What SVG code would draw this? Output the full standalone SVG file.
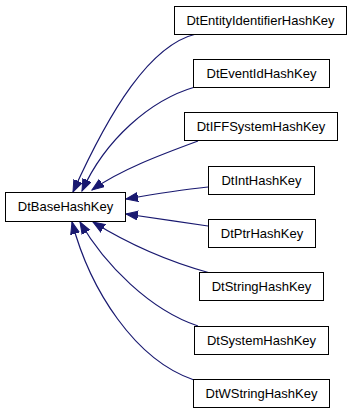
<svg xmlns="http://www.w3.org/2000/svg" width="355" height="413" viewBox="0 0 355 413">
<style>
.n rect{fill:#fff;stroke:#000;stroke-width:1}
.n text{font-family:"Liberation Sans",Arial,sans-serif;font-size:13px;text-anchor:middle;fill:#000}
.e path{fill:none;stroke:#191970;stroke-width:1.2;marker-end:url(#a)}
</style>
<defs>
<marker id="a" markerUnits="userSpaceOnUse" markerWidth="14" markerHeight="12" refX="12" refY="5" orient="auto">
<path d="M0,0.5 L12,5 L0,9.5 z" fill="#191970" stroke="#191970" stroke-width="1"/>
</marker>
</defs>
<rect width="355" height="413" fill="#fff"/>
<g id="edges" class="e">
<path d="M196,34 C150,45 110,110 73,192"/>
<path d="M195,87 C150,100 105,140 82,191"/>
<path d="M198,141 C160,155 120,170 92,190"/>
<path d="M208,187 C180,190 155,194 126,199"/>
<path d="M208,226 C180,222 155,218 126,214"/>
<path d="M210,273 C170,262 130,245 93,222"/>
<path d="M198,326 C150,310 105,265 80,222"/>
<path d="M194,380 C135,360 90,290 72,222"/>
</g>
<g id="DtBaseHashKey" class="n"><rect x="5.5" y="192.5" width="120" height="29"/><text x="65.5" y="211">DtBaseHashKey</text></g>
<g id="DtEntityIdentifierHashKey" class="n"><rect x="174.5" y="6.5" width="172" height="28"/><text x="260.5" y="25">DtEntityIdentifierHashKey</text></g>
<g id="DtEventIdHashKey" class="n"><rect x="193.5" y="59.5" width="136" height="28"/><text x="261.5" y="78">DtEventIdHashKey</text></g>
<g id="DtIFFSystemHashKey" class="n"><rect x="184.5" y="112.5" width="153" height="28"/><text x="261" y="131">DtIFFSystemHashKey</text></g>
<g id="DtIntHashKey" class="n"><rect x="208.5" y="166.5" width="106" height="28"/><text x="261.5" y="185">DtIntHashKey</text></g>
<g id="DtPtrHashKey" class="n"><rect x="208.5" y="219.5" width="107" height="28"/><text x="262" y="238">DtPtrHashKey</text></g>
<g id="DtStringHashKey" class="n"><rect x="199.5" y="272.5" width="124" height="28"/><text x="261.5" y="291">DtStringHashKey</text></g>
<g id="DtSystemHashKey" class="n"><rect x="194.5" y="326.5" width="134" height="28"/><text x="261.5" y="345">DtSystemHashKey</text></g>
<g id="DtWStringHashKey" class="n"><rect x="193.5" y="379.5" width="136" height="28"/><text x="261.5" y="398">DtWStringHashKey</text></g>
</svg>
